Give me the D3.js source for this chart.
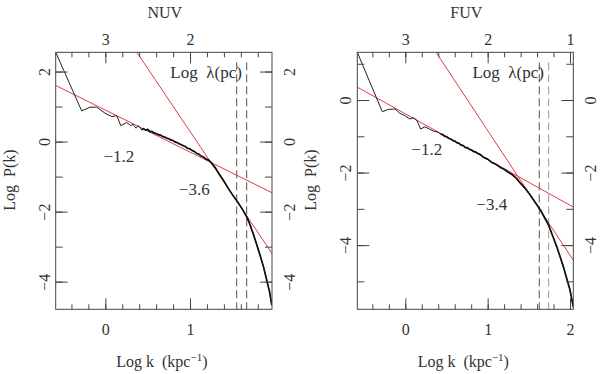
<!DOCTYPE html>
<html>
<head>
<meta charset="utf-8">
<script src="https://d3js.org/d3.v7.min.js"></script>
<style>
  body { margin: 0; background: #fff; }
  svg text { font-family: "Liberation Serif", "DejaVu Serif", serif; fill: #333; }
</style>
</head>
<body>
<div id="chart"></div>
<script>
// ---- data ----
const panelNames = ["NUV", "FUV"];

// NUV power spectrum (log k, log P)
const nuvLogK = [-0.586, -0.279, -0.181, -0.102, -0.004, 0.076, 0.135, 0.182, 0.253, 0.30, 0.327, 0.362, 0.39, 0.43,
  0.45, 0.48, 0.50, 0.53, 0.55, 0.58, 0.60, 0.63, 0.65, 0.68, 0.70, 0.72, 0.75, 0.77, 0.80, 0.82, 0.85, 0.87,
  0.90, 0.92, 0.95, 0.97, 1.00, 1.02, 1.05, 1.08, 1.10, 1.13, 1.16, 1.19, 1.22, 1.25, 1.30, 1.35, 1.39, 1.45,
  1.51, 1.56, 1.61, 1.67, 1.71, 1.75, 1.79, 1.83, 1.87, 1.91, 1.94, 1.965];
const nuvLogP = [2.55, 0.877, 0.983, 0.983, 0.811, 0.714, 0.743, 0.457, 0.543, 0.457, 0.497, 0.383, 0.457, 0.334,
  0.37, 0.32, 0.35, 0.28, 0.29, 0.24, 0.23, 0.19, 0.19, 0.14, 0.13, 0.10, 0.08, 0.05, 0.03, -0.01, -0.03, -0.06,
  -0.09, -0.12, -0.15, -0.19, -0.21, -0.25, -0.28, -0.34, -0.35, -0.41, -0.44, -0.50, -0.53, -0.60, -0.75, -0.95, -1.09, -1.33,
  -1.55, -1.72, -1.90, -2.15, -2.38, -2.66, -2.96, -3.27, -3.60, -4.00, -4.30, -4.67];

// FUV power spectrum (log k, log P)
const fuvLogK = [-0.583, -0.279, -0.206, -0.125, -0.064, -0.004, 0.057, 0.097, 0.138, 0.187, 0.239, 0.291, 0.34,
  0.40, 0.43, 0.45, 0.48, 0.50, 0.53, 0.55, 0.58, 0.60, 0.63, 0.65, 0.68, 0.70, 0.73, 0.75, 0.78, 0.80, 0.83,
  0.85, 0.87, 0.91, 0.95, 1.00, 1.05, 1.10, 1.15, 1.20, 1.25, 1.30, 1.35, 1.40, 1.45, 1.51, 1.57, 1.64, 1.70,
  1.74, 1.79, 1.84, 1.88, 1.92, 1.96, 2.00, 2.04];
const fuvLogP = [1.316, -0.322, -0.257, -0.248, -0.368, -0.433, -0.524, -0.488, -0.552, -0.80, -0.736, -0.80, -0.855,
  -0.89, -0.94, -0.95, -1.00, -1.01, -1.06, -1.07, -1.12, -1.13, -1.18, -1.19, -1.25, -1.25, -1.31, -1.31, -1.36, -1.37, -1.42,
  -1.42, -1.46, -1.50, -1.58, -1.63, -1.72, -1.77, -1.85, -1.91, -1.99, -2.06, -2.16, -2.30, -2.42, -2.60, -2.80, -3.03, -3.28,
  -3.45, -3.75, -4.05, -4.32, -4.60, -4.92, -5.24, -5.70];

// power-law fits: [intercept, slope]
const nuvFits = [[0.90, -1.2], [3.89, -3.6]];
const fuvFits = [[-0.38, -1.26], [2.60, -3.44]];
const nuvFitLabels = ["\u22121.2", "\u22123.6"];
const fuvFitLabels = ["\u22121.2", "\u22123.4"];
// label positions in data coordinates
const nuvLabelAt = [[0.16, -0.58], [1.05, -1.52]];
const fuvLabelAt = [[0.26, -1.52], [1.05, -3.03]];

// dashed scale limits (log k)
const nuvDashes = [1.551, 1.669];
const fuvDashes = [1.627, 1.741];

// axes
const nuvXDomain = [-0.586, 1.968], nuvYDomain = [-4.79, 2.55];
const fuvXDomain = [-0.583, 2.04], fuvYDomain = [-5.77, 1.316];
const xMajor = [0, 1, 2];
const yMajor = [2, 0, -2, -4];
const lambdaMajor = [3, 2, 1];

const W = 600, H = 374;
const svg = d3.select("#chart").append("svg").attr("width", W).attr("height", H);

const panels = [
  { name: panelNames[0], left: 55.7, right: 272, k: nuvLogK, p: nuvLogP, fits: nuvFits, fitLabels: nuvFitLabels,
    labelAt: nuvLabelAt, dashes: nuvDashes, xd: nuvXDomain, yd: nuvYDomain, lamAt: [1.19, 1.82],
    dashColors: ["#555", "#555"] },
  { name: panelNames[1], left: 357.3, right: 573.3, k: fuvLogK, p: fuvLogP, fits: fuvFits, fitLabels: fuvFitLabels,
    labelAt: fuvLabelAt, dashes: fuvDashes, xd: fuvXDomain, yd: fuvYDomain, lamAt: [1.25, 0.61],
    dashColors: ["#555", "#999"] }
];
const plotTop = 52.3, plotBottom = 309.3;
const serif = '"Liberation Serif", "DejaVu Serif", serif';

panels.forEach(function (pn) {
  const x = d3.scaleLinear().domain(pn.xd).range([pn.left, pn.right]);
  const y = d3.scaleLinear().domain(pn.yd).range([plotBottom, plotTop]);
  const g = svg.append("g");

  const clipId = "clip" + pn.name;
  g.append("clipPath").attr("id", clipId).append("rect")
    .attr("x", pn.left).attr("y", plotTop).attr("width", pn.right - pn.left).attr("height", plotBottom - plotTop);
  const plot = g.append("g").attr("clip-path", "url(#" + clipId + ")");

  // dashed lines
  pn.dashes.forEach(function (d, i) {
    plot.append("line")
      .attr("x1", x(d)).attr("x2", x(d)).attr("y1", plotTop + 10).attr("y2", plotBottom)
      .attr("stroke", pn.dashColors[i]).attr("stroke-width", 1).attr("stroke-dasharray", "8,4");
  });

  // fits
  pn.fits.forEach(function (f) {
    plot.append("line")
      .attr("x1", x(pn.xd[0])).attr("y1", y(f[0] + f[1] * pn.xd[0]))
      .attr("x2", x(pn.xd[1])).attr("y2", y(f[0] + f[1] * pn.xd[1]))
      .attr("stroke", "#e03c46").attr("stroke-width", 1);
  });

  // spectrum
  const pts = pn.k.map(function (k, i) { return [k, pn.p[i]]; });
  const line = d3.line().x(d => x(d[0])).y(d => y(d[1]));
  plot.append("path").attr("d", line(pts)).attr("fill", "none").attr("stroke", "#222").attr("stroke-width", 1);
  plot.append("path").attr("d", line(pts.filter(d => d[0] >= 0.43)))
    .attr("fill", "none").attr("stroke", "#111").attr("stroke-width", 1.7).attr("stroke-linejoin", "round");

  // axes: ticks pointing inward
  const xMinor = d3.range(Math.ceil(pn.xd[0] * 5), Math.floor(pn.xd[1] * 5) + 1).map(v => v / 5);
  const yMinor = d3.range(Math.ceil(pn.yd[0]), Math.floor(pn.yd[1]) + 1);
  const xMaj = xMajor.filter(v => v >= pn.xd[0] && v <= pn.xd[1] + 0.001);
  const yMaj = yMajor.filter(v => v >= pn.yd[0] && v <= pn.yd[1]);

  function styleAxis(sel) {
    sel.attr("font-family", serif);
    sel.select(".domain").remove();
    sel.selectAll("line").attr("stroke", "#444");
    sel.selectAll("text").style("font-size", "16px").style("font-family", serif).attr("fill", "#333");
  }

  // bottom
  g.append("g").attr("transform", `translate(0,${plotBottom})`)
    .call(d3.axisBottom(x).tickValues(xMinor).tickSize(-5).tickFormat("")).call(styleAxis);
  g.append("g").attr("transform", `translate(0,${plotBottom})`)
    .call(d3.axisBottom(x).tickValues(xMaj).tickSize(-11).tickPadding(14).tickFormat(d3.format("d"))).call(styleAxis);

  // top: log lambda(pc) = 3 - log k
  g.append("g").attr("transform", `translate(0,${plotTop})`)
    .call(d3.axisTop(x).tickValues(xMinor).tickSize(-5).tickFormat("")).call(styleAxis);
  g.append("g").attr("transform", `translate(0,${plotTop})`)
    .call(d3.axisTop(x).tickValues(lambdaMajor.map(l => 3 - l).filter(v => v >= pn.xd[0] && v <= pn.xd[1] + 0.001))
      .tickSize(-11).tickPadding(7).tickFormat(v => d3.format("d")(3 - v))).call(styleAxis);

  // left
  g.append("g").attr("transform", `translate(${pn.left},0)`)
    .call(d3.axisLeft(y).tickValues(yMinor).tickSize(-7).tickFormat("")).call(styleAxis);
  const la = g.append("g").attr("transform", `translate(${pn.left},0)`)
    .call(d3.axisLeft(y).tickValues(yMaj).tickSize(-12).tickFormat(v => v < 0 ? "\u2212" + (-v) : v)).call(styleAxis);
  la.selectAll("text").attr("x", null).attr("dy", null).attr("text-anchor", "middle")
    .attr("transform", "translate(-6,0) rotate(-90)");

  // right
  g.append("g").attr("transform", `translate(${pn.right},0)`)
    .call(d3.axisRight(y).tickValues(yMinor).tickSize(-7).tickFormat("")).call(styleAxis);
  const ra = g.append("g").attr("transform", `translate(${pn.right},0)`)
    .call(d3.axisRight(y).tickValues(yMaj).tickSize(-12).tickFormat(v => v < 0 ? "\u2212" + (-v) : v)).call(styleAxis);
  ra.selectAll("text").attr("x", null).attr("dy", null).attr("text-anchor", "middle")
    .attr("transform", "translate(23,0) rotate(-90)");

  // frame
  g.append("rect").attr("x", pn.left).attr("y", plotTop).attr("width", pn.right - pn.left).attr("height", plotBottom - plotTop)
    .attr("fill", "none").attr("stroke", "#444").attr("stroke-width", 1);

  const cx = (pn.left + pn.right) / 2 - 2;
  // title
  g.append("text").attr("x", cx + 3).attr("y", 18).attr("text-anchor", "middle").style("font-size", "16px").text(pn.name);

  // x label
  const xl = g.append("text").attr("x", cx).attr("y", 367).attr("text-anchor", "middle")
    .style("font-size", "16px").style("white-space", "pre");
  xl.append("tspan").text("Log k  (kpc");
  xl.append("tspan").attr("dy", -6).style("font-size", "11px").text("\u22121");
  xl.append("tspan").attr("dy", 6).text(")");

  // y label
  g.append("text").attr("transform", `translate(${pn.left - 41},180) rotate(-90)`).attr("text-anchor", "middle")
    .style("font-size", "16px").style("white-space", "pre").text("Log  P(k)");

  // lambda axis name
  g.append("text").attr("x", x(pn.lamAt[0])).attr("y", y(pn.lamAt[1])).attr("text-anchor", "middle")
    .style("font-size", "17px").style("white-space", "pre").text("Log  \u03bb(pc)");

  // slope labels
  pn.fitLabels.forEach(function (t, i) {
    g.append("text").attr("x", x(pn.labelAt[i][0])).attr("y", y(pn.labelAt[i][1]))
      .attr("text-anchor", "middle").style("font-size", "17px").text(t);
  });
});
</script>
</body>
</html>
